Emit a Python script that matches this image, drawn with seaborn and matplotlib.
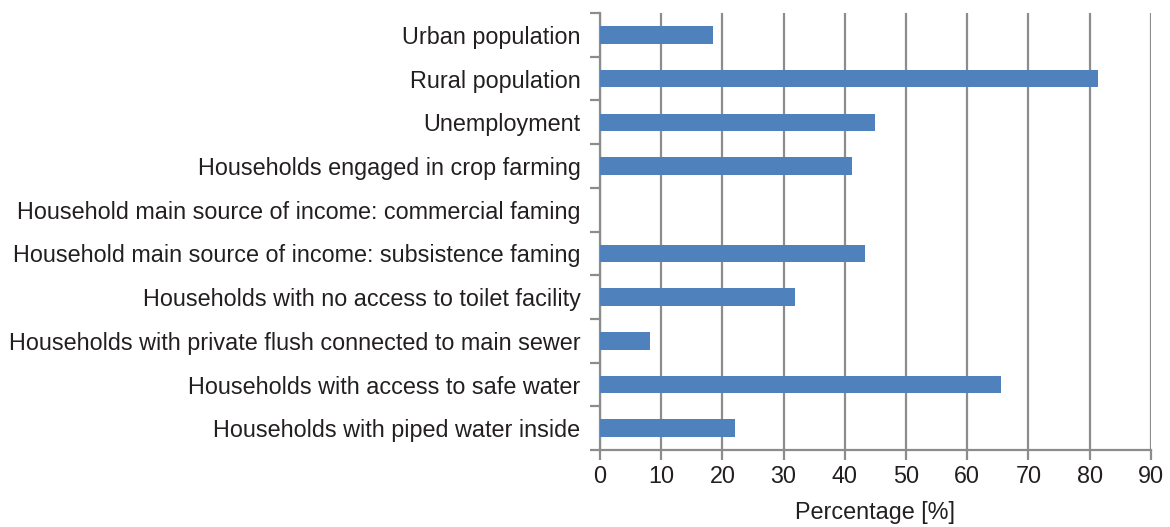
import matplotlib
matplotlib.use("Agg")
import matplotlib.pyplot as plt
import seaborn as sns
import pandas as pd
import numpy as np

categories = [
    "Urban population",
    "Rural population",
    "Unemployment",
    "Households engaged in crop farming",
    "Household main source of income: commercial faming",
    "Household main source of income: subsistence faming",
    "Households with no access to toilet facility",
    "Households with private flush connected to main sewer",
    "Households with access to safe water",
    "Households with piped water inside",
]
percentages = [18.5, 81.3, 45.0, 41.1, 0.0, 43.3, 31.8, 8.2, 65.5, 22.0]
x_ticks = [0, 10, 20, 30, 40, 50, 60, 70, 80, 90]

df = pd.DataFrame({"category": categories, "percentage": percentages})

sns.set_theme(style="white")
plt.rcParams["font.family"] = ["Liberation Sans", "DejaVu Sans"]

text_color = "#231f20"
line_color = "#8c8c8c"
font_size = 16.8

fig = plt.figure(figsize=(11.7, 5.27), dpi=100)
ax = fig.add_axes([0.5128, 0.146, 0.4709, 0.8293])

sns.barplot(data=df, x="percentage", y="category", orient="h",
            color="#4f81bd", saturation=1, width=0.4, linewidth=0,
            ax=ax, zorder=3)

ax.set_xlim(0, 90)
ax.set_ylim(len(categories) - 0.5, -0.5)
ax.set_xticks(x_ticks)
ax.set_xticklabels([str(t) for t in x_ticks])

ax.xaxis.grid(True, color=line_color, linewidth=1.6, zorder=0)
ax.yaxis.grid(False)
ax.set_axisbelow(True)

for side in ["top", "right"]:
    ax.spines[side].set_visible(False)
for side in ["left", "bottom"]:
    ax.spines[side].set_color(line_color)
    ax.spines[side].set_linewidth(1.6)

# Category labels sit between tick marks placed at the band boundaries
ax.set_yticks(np.arange(len(categories)))
ax.set_yticklabels(categories)
ax.set_yticks(np.arange(-0.5, len(categories)), minor=True)
ax.tick_params(axis="y", which="major", length=0, pad=14,
               labelsize=font_size, labelcolor=text_color)
ax.tick_params(axis="y", which="minor", length=7, width=1.6,
               color=line_color, direction="out", left=True)
ax.tick_params(axis="x", which="major", length=7, width=1.6,
               color=line_color, direction="out", bottom=True,
               labelsize=font_size, labelcolor=text_color, pad=4)

ax.set_ylabel("")
ax.set_xlabel("Percentage [%]", fontsize=font_size, color=text_color, labelpad=9)

fig.savefig("out.png", dpi=100)
